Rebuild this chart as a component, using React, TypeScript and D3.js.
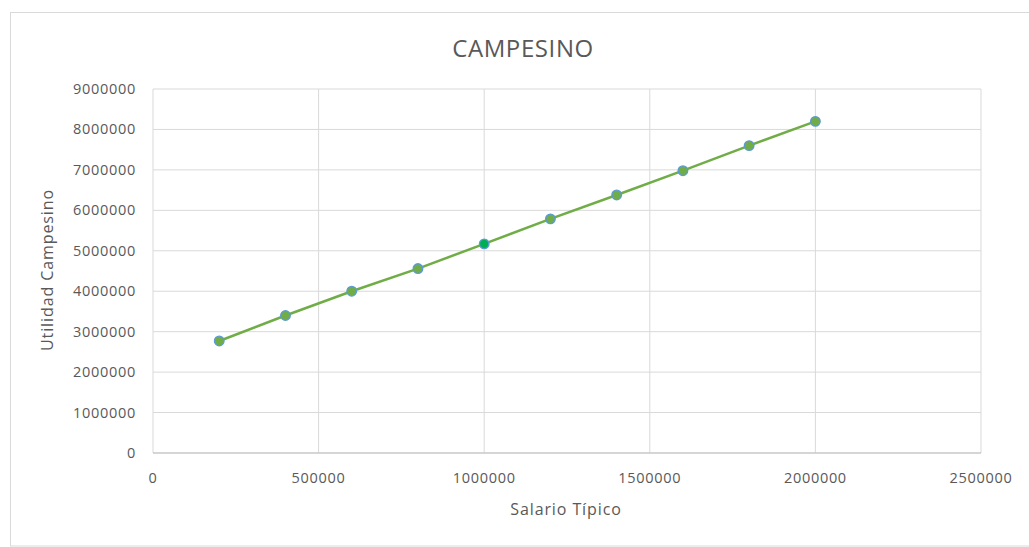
import React from "react";
import * as d3 from "d3";

const salario = [200000, 400000, 600000, 800000, 1000000, 1200000, 1400000, 1600000, 1800000, 2000000];
const utilidad = [2770000, 3400000, 4000000, 4560000, 5170000, 5790000, 6380000, 6980000, 7600000, 8200000];
const xTicks = [0, 500000, 1000000, 1500000, 2000000, 2500000];
const yTicks = [0, 1000000, 2000000, 3000000, 4000000, 5000000, 6000000, 7000000, 8000000, 9000000];

const W = 1029;
const H = 547;
const plot = { left: 153, right: 981, top: 89, bottom: 453 };
const font = "'Open Sans', 'Noto Sans', sans-serif";
const textColor = "#595959";

export default function App() {
  const x = d3.scaleLinear().domain([0, 2500000]).range([plot.left, plot.right]);
  const y = d3.scaleLinear().domain([0, 9000000]).range([plot.bottom, plot.top]);
  const pts = salario.map((s, i) => [s, utilidad[i]] as [number, number]);
  const line = d3.line<[number, number]>().x((d) => x(d[0])).y((d) => y(d[1]));

  return (
    <svg width={W} height={H} style={{ position: "absolute", left: 0, top: 0 }}>
      <rect x={0} y={0} width={W} height={H} fill="#fff" />
      <rect x={10.5} y={12.5} width={W + 20} height={533.5} fill="#fff" stroke="#d9d9d9" strokeWidth={1} />
      <text x={523} y={57} textAnchor="middle" fontFamily={font} fontSize={24} fill={textColor} letterSpacing={0.6}>
        CAMPESINO
      </text>
      {yTicks.map((t) => (
        <line key={"gy" + t} x1={plot.left} x2={plot.right} y1={y(t)} y2={y(t)} stroke="#d9d9d9" strokeWidth={1} />
      ))}
      {xTicks.map((t) => (
        <line key={"gx" + t} x1={x(t)} x2={x(t)} y1={plot.top} y2={plot.bottom} stroke="#d9d9d9" strokeWidth={1} />
      ))}
      <line x1={plot.left} x2={plot.right} y1={plot.bottom} y2={plot.bottom} stroke="#bfbfbf" strokeWidth={1} />
      {yTicks.map((t) => (
        <text key={"ty" + t} x={136} y={y(t) + 5} textAnchor="end" fontFamily={font} fontSize={14.5} fill={textColor} letterSpacing={0.7}>
          {String(t)}
        </text>
      ))}
      {xTicks.map((t) => (
        <text key={"tx" + t} x={x(t)} y={483} textAnchor="middle" fontFamily={font} fontSize={14.5} fill={textColor} letterSpacing={0.7}>
          {String(t)}
        </text>
      ))}
      <text x={566} y={515} textAnchor="middle" fontFamily={font} fontSize={16} fill={textColor} letterSpacing={0.9}>
        Salario Típico
      </text>
      <text transform={`translate(53,270) rotate(-90)`} textAnchor="middle" fontFamily={font} fontSize={16} fill={textColor} letterSpacing={0.9}>
        Utilidad Campesino
      </text>
      <path d={line(pts) || ""} fill="none" stroke="#70ad47" strokeWidth={2.5} />
      {pts.map((p, i) => (
        <circle key={i} cx={x(p[0])} cy={y(p[1])} r={4.8} fill={i === 4 ? "#00b050" : "#70ad47"} stroke="#5b9bd5" strokeWidth={1.3} />
      ))}
    </svg>
  );
}
